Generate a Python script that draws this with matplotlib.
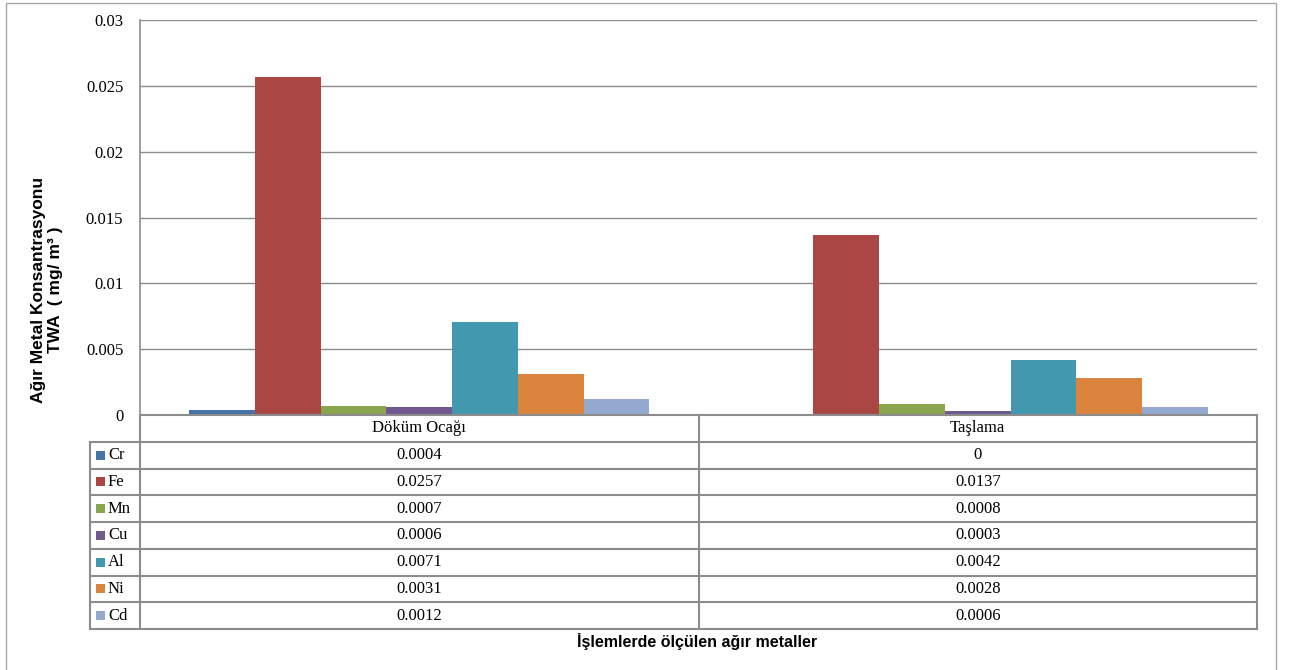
import matplotlib.pyplot as plt
from matplotlib.patches import Rectangle

categories = ['Döküm Ocağı', 'Taşlama']
metals = ['Cr', 'Fe', 'Mn', 'Cu', 'Al', 'Ni', 'Cd']
values = {
    'Cr': [0.0004, 0],
    'Fe': [0.0257, 0.0137],
    'Mn': [0.0007, 0.0008],
    'Cu': [0.0006, 0.0003],
    'Al': [0.0071, 0.0042],
    'Ni': [0.0031, 0.0028],
    'Cd': [0.0012, 0.0006],
}
value_labels = {
    'Cr': ['0.0004', '0'],
    'Fe': ['0.0257', '0.0137'],
    'Mn': ['0.0007', '0.0008'],
    'Cu': ['0.0006', '0.0003'],
    'Al': ['0.0071', '0.0042'],
    'Ni': ['0.0031', '0.0028'],
    'Cd': ['0.0012', '0.0006'],
}
colors = ['#4572A7', '#AA4643', '#89A54E', '#71588F', '#4198AF', '#DB843D', '#93A9CF']
yticks = [0, 0.005, 0.01, 0.015, 0.02, 0.025, 0.03]
ytick_labels = ['0', '0.005', '0.01', '0.015', '0.02', '0.025', '0.03']

W, H = 1291, 670
serif = 'Liberation Serif'
sans = 'Liberation Sans'
line_c = '#8c8c8c'
fs = 12

fig = plt.figure(figsize=(W / 100, H / 100), dpi=100)

# outer chart border
fig.patches.append(Rectangle((6 / W, -0.05), (1276 - 6) / W, (H - 3) / H + 0.05,
                             transform=fig.transFigure, fill=False,
                             edgecolor='#a6a6a6', lw=1))

# plot area
left, right, top, bottom = 140, 1257, 20, 415
ax = fig.add_axes([left / W, (H - bottom) / H, (right - left) / W, (bottom - top) / H])
n = len(metals)
gap = 1.5
bw = 1 / (n + gap)
for i, m in enumerate(metals):
    xs = [c - n * bw / 2 + (i + 0.5) * bw for c in range(len(categories))]
    ax.bar(xs, values[m], width=bw, color=colors[i], linewidth=0, zorder=3)

ax.set_xlim(-0.5, 1.5)
ax.set_ylim(0, 0.03)
ax.set_yticks(yticks)
ax.set_yticklabels(ytick_labels, fontfamily=serif, fontsize=fs)
ax.set_xticks([])
ax.tick_params(axis='y', length=0, pad=12)
ax.grid(axis='y', color=line_c, lw=1, zorder=0)
for s in ['top', 'right', 'bottom']:
    ax.spines[s].set_visible(False)
ax.spines['left'].set_color(line_c)
ax.spines['left'].set_linewidth(1.2)

# data table under the plot
tb_left, tb_bottom = 90, 629
lab = (left - tb_left) / (right - left) * 2
tax = fig.add_axes([tb_left / W, (H - tb_bottom) / H, (right - tb_left) / W, (tb_bottom - bottom) / H])
tax.set_xlim(-0.5 - lab, 1.5)
tax.set_ylim(n + 1, 0)
tax.axis('off')

lk = dict(color=line_c, lw=1.5, clip_on=False, solid_capstyle='projecting')
tax.plot([-0.5, 1.5], [0, 0], **lk)
for r in range(1, n + 2):
    tax.plot([-0.5 - lab, 1.5], [r, r], **lk)
tax.plot([-0.5 - lab, -0.5 - lab], [1, n + 1], **lk)
for x in [-0.5, 0.5, 1.5]:
    tax.plot([x, x], [0, n + 1], **lk)

for j, c in enumerate(categories):
    tax.text(j, 0.5, c, ha='center', va='center', fontfamily=serif, fontsize=fs)

px = 2 / (right - left)  # data units per pixel
for i, m in enumerate(metals):
    y = i + 1.5
    tax.add_patch(Rectangle((-0.5 - lab + 6 * px, y - 0.17), 9 * px, 0.34,
                            facecolor=colors[i], edgecolor='none', clip_on=False))
    tax.text(-0.5 - lab + 18 * px, y, m, ha='left', va='center', fontfamily=serif, fontsize=fs)
    for j in range(len(categories)):
        tax.text(j, y, value_labels[m][j], ha='center', va='center', fontfamily=serif, fontsize=fs)

# axis titles
fig.text(47 / W, 1 - 290 / H, 'Ağır Metal Konsantrasyonu\nTWA  ( mg/ m³ )', rotation=90,
         ha='center', va='center', fontfamily=sans, fontweight='bold', fontsize=12.5,
         linespacing=1.2)
fig.text(697 / W, 1 - 642 / H, 'İşlemlerde ölçülen ağır metaller', ha='center', va='center',
         fontfamily=sans, fontweight='bold', fontsize=11.5)

fig.savefig('out.png', dpi=100)
